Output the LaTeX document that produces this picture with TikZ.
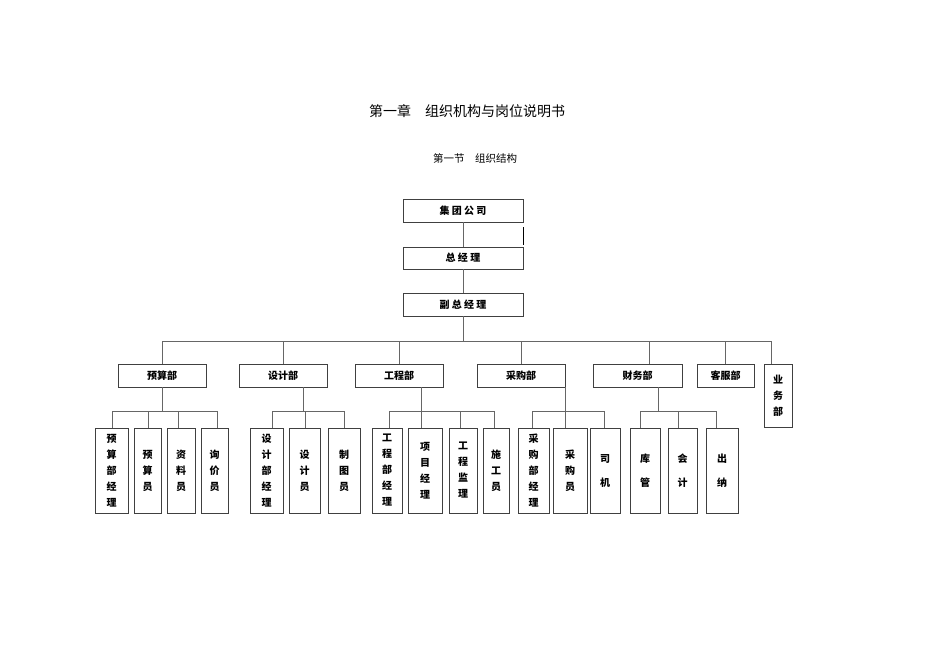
\documentclass[tikz,border=0pt]{standalone}
\usepackage{fontspec}
\setmainfont{Noto Sans CJK SC}
\begin{document}
\begin{tikzpicture}[x=1pt,y=-1pt,
  bx/.style={draw=black!75,line width=0.8pt,inner sep=0pt,font=\fontsize{10}{16}\selectfont\bfseries,align=center},
  ln/.style={draw=black!60,line width=0.8pt}]
\useasboundingbox (0,0) rectangle (950,671);
\node[font=\fontsize{14}{16}\selectfont] (t1) at (467,111) {第一章\quad 组织机构与岗位说明书};
\node[font=\fontsize{10.5}{12}\selectfont] (t2) at (475,158) {第一节\quad 组织结构};
% top
\node[bx,minimum width=120,minimum height=23] (g) at (463,210.5) {集 团 公 司};
\node[bx,minimum width=120,minimum height=22] (z) at (463,258) {总 经 理};
\node[bx,minimum width=120,minimum height=23] (f) at (463,304.5) {副 总 经 理};
\coordinate (m1) at (523,227); \coordinate (m2) at (523,245);
\draw[black,line width=1pt] (m1) -- (m2);
\draw[ln] (g) -- (z); \draw[ln] (z) -- (f);
% depts
\newcommand{\dept}[5]{\node[bx,minimum width=#3,minimum height=23] (#1) at (#2,375.5) {#4};}
\dept{d1}{162}{88}{预算部}{}
\dept{d2}{283}{88}{设计部}{}
\dept{d3}{399}{88}{工程部}{}
\dept{d4}{521}{88}{采购部}{}
\dept{d5}{637.5}{89}{财务部}{}
\dept{d6}{725.5}{57}{客服部}{}
\node[bx,minimum width=28,minimum height=63] (d7) at (778,395.5) {业\\务\\部};
\coordinate (bL) at (162,341); \coordinate (bR) at (771,341);
\draw[ln] (bL) -- (bR);
\draw[ln] (f.south) -- (463,341);
\foreach \n/\x in {d1/162,d2/283,d3/399,d4/521,d6/725,d7/771} \draw[ln] (\x,341) -- (\x,364);
\draw[ln] (649,341) -- (649,364);
% leaves
\newcommand{\leaf}[4]{\node[bx,minimum width=#3,minimum height=85] (#1) at (#2,470.5) {#4};}
\leaf{a1}{111.5}{33}{预\\算\\部\\经\\理}
\leaf{a2}{147.5}{27}{预\\算\\员}
\leaf{a3}{181}{28}{资\\料\\员}
\leaf{a4}{214.5}{27}{询\\价\\员}
\leaf{b1}{266.5}{33}{设\\计\\部\\经\\理}
\leaf{b2}{304.5}{31}{设\\计\\员}
\leaf{b3}{344}{32}{制\\图\\员}
\leaf{c1}{387}{30}{工\\程\\部\\经\\理}
\leaf{c2}{425}{34}{项\\目\\经\\理}
\leaf{c3}{463}{28}{工\\程\\监\\理}
\leaf{c4}{496}{26}{施\\工\\员}
\leaf{e1}{533.5}{31}{采\\购\\部\\经\\理}
\leaf{e2}{570}{34}{采\\购\\员}
\leaf{e3}{605}{30}{司\\[8pt]机}
\leaf{h1}{645}{30}{库\\[8pt]管}
\leaf{h2}{682.5}{29}{会\\[8pt]计}
\leaf{h3}{722}{32}{出\\[8pt]纳}
\newcommand{\grp}[4]{\draw[ln] (#1.south) ++(0,0) |- (#2,411); \draw[ln] (#3,411) -- (#4,411);}
% sub-buses
\draw[ln] (162,387) -- (162,411); \draw[ln] (112,411) -- (217,411);
\foreach \x in {112,148,178,217} \draw[ln] (\x,411) -- (\x,428);
\draw[ln] (303,387) -- (303,411); \draw[ln] (272,411) -- (344,411);
\foreach \x in {272,305,344} \draw[ln] (\x,411) -- (\x,428);
\draw[ln] (421,387) -- (421,411); \draw[ln] (389,411) -- (494,411);
\foreach \x in {389,421,460,494} \draw[ln] (\x,411) -- (\x,428);
\draw[ln] (565,387) -- (565,411); \draw[ln] (532,411) -- (604,411);
\foreach \x in {532,565,604} \draw[ln] (\x,411) -- (\x,428);
\draw[ln] (658,387) -- (658,411); \draw[ln] (640,411) -- (716,411);
\foreach \x in {640,678,716} \draw[ln] (\x,411) -- (\x,428);
\end{tikzpicture}
\end{document}
